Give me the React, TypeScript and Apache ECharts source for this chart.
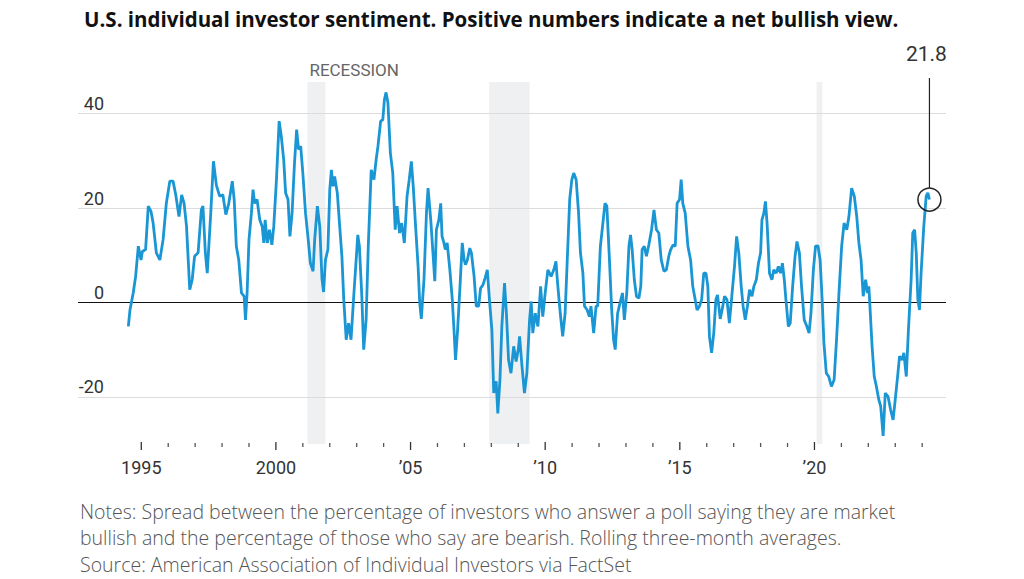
import React, { useEffect, useRef } from 'react';
import * as echarts from 'echarts';

const TITLE = 'U.S. individual investor sentiment. Positive numbers indicate a net bullish view.';
const NOTES = [
  'Notes: Spread between the percentage of investors who answer a poll saying they are market',
  'bullish and the percentage of those who say are bearish. Rolling three-month averages.',
  'Source: American Association of Individual Investors via FactSet',
];

// [year as decimal, bullish share minus bearish share, percentage points]
const spread: [number, number][] = [
  [1994.52, -5.1], [1994.58, -1.6], [1994.7, 2], [1994.79, 5.5], [1994.89, 11.9], [1994.99, 9],
  [1995.04, 10.8], [1995.16, 11.2], [1995.26, 20.4], [1995.36, 19.3], [1995.44, 16.8], [1995.56, 10.5],
  [1995.69, 9], [1995.81, 13.3], [1995.93, 21], [1996.06, 25.7], [1996.18, 25.7], [1996.28, 22.8],
  [1996.4, 18.2], [1996.5, 22.8], [1996.59, 21], [1996.68, 16.1], [1996.8, 2.7], [1996.89, 4.8],
  [1996.98, 9.8], [1997.11, 10.5], [1997.23, 19.6], [1997.29, 20.4], [1997.38, 10.5], [1997.45, 6.2],
  [1997.58, 18.9], [1997.68, 29.9], [1997.79, 24.8], [1997.91, 22.5], [1998.03, 22.8], [1998.14, 18.6],
  [1998.25, 21], [1998.38, 25.7], [1998.45, 21.8], [1998.53, 11.9], [1998.62, 9], [1998.72, 2],
  [1998.82, 1.3], [1998.87, -3.7], [1998.93, 2], [1999.0, 13.3], [1999.09, 18.9], [1999.15, 23.9],
  [1999.21, 21], [1999.3, 21.8], [1999.4, 17.5], [1999.49, 16.1], [1999.55, 12.6], [1999.6, 17.5],
  [1999.68, 12.6], [1999.76, 15.4], [1999.85, 12.2], [1999.92, 16.1], [2000.02, 26], [2000.12, 38.4],
  [2000.2, 35.2], [2000.29, 30.2], [2000.36, 23.2], [2000.45, 21.8], [2000.52, 14], [2000.6, 18.9],
  [2000.69, 29.5], [2000.77, 36.6], [2000.84, 32.4], [2000.92, 33.1], [2001.0, 27.4], [2001.1, 18.9],
  [2001.2, 13.3], [2001.28, 8.3], [2001.38, 6.6], [2001.44, 13.3], [2001.54, 20.4], [2001.63, 16],
  [2001.71, 5], [2001.77, 2.2], [2001.84, 9], [2001.93, 11.2], [2002.0, 23.9], [2002.06, 28.1],
  [2002.12, 24.6], [2002.18, 26.7], [2002.28, 23.2], [2002.36, 16.8], [2002.45, 9.8], [2002.52, 0.6],
  [2002.61, -7.9], [2002.7, -4.4], [2002.79, -7.9], [2002.89, 1.3], [2002.98, 9], [2003.04, 14.3],
  [2003.1, 11.9], [2003.19, 1.3], [2003.26, -10], [2003.35, -3.7], [2003.43, 11.9], [2003.54, 28.1],
  [2003.64, 26], [2003.73, 30.6], [2003.79, 33.1], [2003.89, 38.4], [2003.97, 38.7], [2004.03, 43],
  [2004.09, 44.5], [2004.16, 42.3], [2004.25, 31.7], [2004.34, 27.4], [2004.43, 15.4], [2004.5, 20.4],
  [2004.59, 14.7], [2004.67, 16.8], [2004.77, 12.6], [2004.87, 22.5], [2004.95, 26], [2005.03, 29.9],
  [2005.1, 24.6], [2005.18, 16.8], [2005.28, 7.6], [2005.34, -0.1], [2005.4, -3.5], [2005.5, 5],
  [2005.59, 18.9], [2005.65, 24.2], [2005.75, 17.5], [2005.84, 9.8], [2005.9, 4.5], [2005.96, 15.4],
  [2006.05, 17.5], [2006.12, 21], [2006.17, 14], [2006.24, 12.6], [2006.29, 11.2], [2006.36, 12.6],
  [2006.46, 6.9], [2006.55, 0.6], [2006.62, -6.5], [2006.67, -12.2], [2006.74, -6.5], [2006.83, 2.7],
  [2006.92, 12.6], [2006.99, 9], [2007.04, 8], [2007.11, 9], [2007.2, 11.5], [2007.26, 10.5],
  [2007.36, 5.5], [2007.44, -0.8], [2007.53, -0.8], [2007.6, 3], [2007.69, 3.7], [2007.77, 5.2],
  [2007.85, 6.9], [2007.93, 0.6], [2008.02, -5.8], [2008.09, -19.2], [2008.18, -16.7], [2008.24, -23.5],
  [2008.32, -16.4], [2008.39, -5.1], [2008.49, 4.1], [2008.56, -2.3], [2008.64, -12.2], [2008.73, -15],
  [2008.83, -9.3], [2008.92, -12.5], [2009.0, -10], [2009.05, -7.2], [2009.14, -13.6], [2009.23, -19.2],
  [2009.32, -15], [2009.42, -3.7], [2009.48, 0.2], [2009.54, -6.5], [2009.63, -2.3], [2009.73, -5.1],
  [2009.83, 3.4], [2009.91, -3], [2010.0, 2], [2010.1, 6.9], [2010.22, 5.5], [2010.32, 6.9],
  [2010.4, 8.7], [2010.46, 4.1], [2010.56, -2.3], [2010.65, -7.2], [2010.74, -2.3], [2010.82, 9],
  [2010.91, 21.8], [2010.99, 26], [2011.06, 27.4], [2011.15, 26], [2011.24, 18.9], [2011.31, 10.5],
  [2011.4, 6.2], [2011.46, -0.8], [2011.56, -1.6], [2011.64, -3], [2011.7, -0.8], [2011.8, -6.5],
  [2011.89, -0.8], [2011.95, -0.8], [2012.05, 11.9], [2012.13, 16.1], [2012.22, 21], [2012.29, 20.4],
  [2012.38, 9.8], [2012.47, -1.6], [2012.54, -7.9], [2012.6, -10], [2012.69, -2.3], [2012.78, -0.1],
  [2012.87, 2], [2012.94, -3.7], [2013.03, 2], [2013.11, 11.9], [2013.17, 14.3], [2013.23, 11.2],
  [2013.31, 4.8], [2013.39, 1.3], [2013.48, 0.9], [2013.55, 3.4], [2013.6, 11.2], [2013.68, 11.9],
  [2013.76, 9.8], [2013.85, 12.2], [2013.95, 15.4], [2014.04, 19.6], [2014.13, 15.4], [2014.22, 14.7],
  [2014.31, 9], [2014.41, 6.6], [2014.5, 6.9], [2014.59, 9.8], [2014.66, 11.2], [2014.75, 12.2],
  [2014.83, 11.9], [2014.9, 21], [2014.99, 21.8], [2015.05, 26], [2015.11, 21], [2015.2, 18.9],
  [2015.3, 11.9], [2015.4, 9], [2015.48, 3.4], [2015.57, 0.6], [2015.64, -1.6], [2015.73, -0.8],
  [2015.81, 0.6], [2015.89, 6.2], [2015.97, 6.2], [2016.04, 3.4], [2016.1, -7.2], [2016.18, -10.7],
  [2016.26, -6.5], [2016.34, 0.6], [2016.4, 1.6], [2016.5, -3.5], [2016.59, -1], [2016.66, 1.3],
  [2016.75, 0.6], [2016.84, -4.4], [2016.93, 1.3], [2017.03, 7.6], [2017.11, 14], [2017.19, 10.5],
  [2017.28, 3.4], [2017.35, -0.8], [2017.43, -3.7], [2017.51, -0.8], [2017.59, 2.7], [2017.68, 1.3],
  [2017.75, 3.4], [2017.84, 4.8], [2017.92, 8.3], [2018.0, 10.5], [2018.05, 17.5], [2018.12, 18.9],
  [2018.18, 21.4], [2018.24, 16.8], [2018.33, 6.2], [2018.42, 4.8], [2018.49, 6.9], [2018.58, 6.2],
  [2018.66, 7.6], [2018.74, 6.2], [2018.81, 8.3], [2018.88, 4.8], [2018.94, 0.6], [2019.03, -5.1],
  [2019.1, -4.4], [2019.19, 3.4], [2019.28, 9.8], [2019.35, 12.9], [2019.44, 10.5], [2019.52, 3.4],
  [2019.62, -3.7], [2019.72, -5.1], [2019.8, -6.5], [2019.87, -2.3], [2019.96, 6.9], [2020.04, 11.9],
  [2020.13, 12], [2020.21, 9], [2020.29, 0], [2020.35, -8.5], [2020.44, -15], [2020.53, -15.7],
  [2020.63, -17.8], [2020.73, -16.4], [2020.82, -7.9], [2020.91, 2], [2021.01, 11.9], [2021.1, 16.8],
  [2021.2, 15.4], [2021.28, 18.2], [2021.38, 24.2], [2021.48, 22.5], [2021.57, 18.2], [2021.65, 12.6],
  [2021.73, 9], [2021.81, 1.3], [2021.9, 4.8], [2021.97, 2], [2022.02, 3.4], [2022.06, -0.8],
  [2022.14, -9.3], [2022.22, -15.7], [2022.3, -17.8], [2022.39, -20.6], [2022.46, -22], [2022.55, -28.3],
  [2022.63, -19.2], [2022.73, -19.9], [2022.83, -22.8], [2022.92, -24.9], [2023.0, -20.6], [2023.1, -15],
  [2023.16, -11.4], [2023.25, -12.2], [2023.32, -10.7], [2023.41, -15.7], [2023.49, -5.8], [2023.59, 4.8],
  [2023.65, 14.7], [2023.72, 15.4], [2023.78, 10.5], [2023.84, 0.6], [2023.9, -1.6], [2023.96, 6.2],
  [2024.06, 16.1], [2024.15, 22.5], [2024.21, 23.2], [2024.27, 21.8],
];

// NBER recessions: Mar-Nov 2001, Dec 2007-Jun 2009, Feb-Apr 2020
const recessions: [number, number][] = [
  [2001.17, 2001.84],
  [2007.92, 2009.42],
  [2020.08, 2020.29],
];

const tickYears = [
  1995, 1996, 1997, 1998, 1999, 2000, 2001, 2002, 2003, 2004, 2005, 2006, 2007, 2008, 2009,
  2010, 2011, 2012, 2013, 2014, 2015, 2016, 2017, 2018, 2019, 2020, 2021, 2022, 2023, 2024,
];
const yearLabels: Record<number, string> = {
  1995: '1995', 2000: '2000', 2005: '\u201905', 2010: '\u201910', 2015: '\u201915', 2020: '\u201920',
};
const yGridValues = [40, 20, -20];
const yLabelValues = [40, 20, 0, -20];

const X_MIN = 1992.65;
const X_MAX = 2024.885;
const Y_MIN = -30;
const Y_MAX = 46.7;

const LINE_BLUE = '#1996d3';
const NARROW = "'Liberation Sans Narrow', 'Roboto', sans-serif";
const BODY = "'Open Sans', 'Roboto', sans-serif";

export default function App() {
  const ref = useRef<HTMLDivElement>(null);

  useEffect(() => {
    if (!ref.current) return;
    const chart = echarts.init(ref.current, null, { renderer: 'svg' });
    const last = spread[spread.length - 1];

    chart.setOption({
      animation: false,
      backgroundColor: '#ffffff',
      title: {
        text: TITLE,
        left: 79,
        top: 3,
        textStyle: { fontFamily: "'Open Sans', 'Noto Sans', sans-serif", fontWeight: 'bold', fontSize: 20.5, color: '#111' },
      },
      grid: { left: 78, right: 78, top: 82, bottom: 135 },
      xAxis: {
        type: 'value',
        min: X_MIN,
        max: X_MAX,
        show: false,
        splitLine: { show: false },
      },
      yAxis: {
        type: 'value',
        min: Y_MIN,
        max: Y_MAX,
        interval: 10,
        axisLine: { show: false },
        axisTick: { show: false },
        splitLine: { show: false },
        axisLabel: {
          inside: true,
          margin: 26,
          align: 'right',
          verticalAlign: 'bottom',
          padding: [0, 0, 1, 0],
          fontFamily: NARROW,
          fontSize: 18,
          color: '#333',
          formatter: (v: number) => (yLabelValues.includes(v) ? String(v) : ''),
        },
      },
      graphic: NOTES.map((line, i) => ({
        type: 'text',
        left: 80,
        top: 501 + i * 26.5,
        style: { text: line, fontFamily: BODY, fontWeight: 300, fontSize: 19.5, fill: '#555' },
      })),
      series: [
        {
          name: 'spread',
          type: 'line',
          z: 3,
          data: spread,
          symbol: 'none',
          lineStyle: { color: LINE_BLUE, width: 2.8 },
          markArea: {
            z: 1,
            silent: true,
            itemStyle: { color: '#eff0f1' },
            data: recessions.map(([a, b], i) => [
              {
                xAxis: a,
                label: i === 0
                  ? {
                      show: true,
                      formatter: 'RECESSION',
                      position: [2, -4],
                      verticalAlign: 'bottom',
                      align: 'left',
                      fontFamily: NARROW,
                      fontSize: 17,
                      color: '#666',
                    }
                  : { show: false },
              },
              { xAxis: b },
            ]),
          },
          markLine: {
            z: 2,
            silent: true,
            symbol: 'none',
            label: { show: false },
            data: [
              ...yGridValues.map((v) => ({ yAxis: v, lineStyle: { color: '#dcdcdc', width: 1, type: 'solid' } })),
              { yAxis: 0, lineStyle: { color: '#111', width: 1, type: 'solid' } },
            ],
          },
        },
        {
          name: 'year ticks',
          type: 'custom',
          silent: true,
          z: 4,
          data: tickYears.map((y) => [y, Y_MIN]),
          encode: { x: 0, y: 1 },
          renderItem: (_params: any, api: any) => {
            const year = api.value(0);
            const [x, y] = api.coord([year, Y_MIN]);
            const label = yearLabels[year];
            const children: any[] = [
              {
                type: 'line',
                shape: { x1: x, y1: y - (label ? 2 : 1), x2: x, y2: y + (label ? 6 : 3) },
                style: { stroke: label ? '#333' : '#555', lineWidth: 1.3 },
              },
            ];
            if (label) {
              children.push({
                type: 'text',
                x,
                y: y + 23,
                style: {
                  text: label,
                  align: 'center',
                  verticalAlign: 'middle',
                  fontFamily: NARROW,
                  fontSize: 18,
                  fill: '#333',
                },
              });
            }
            return { type: 'group', children };
          },
        },
        {
          name: 'latest',
          type: 'custom',
          silent: true,
          z: 5,
          data: [last],
          encode: { x: 0, y: 1 },
          renderItem: (_params: any, api: any) => {
            const [cx, cy] = api.coord([api.value(0), api.value(1)]);
            const top = api.coord([api.value(0), Y_MAX])[1];
            const r = 11.5;
            return {
              type: 'group',
              children: [
                { type: 'circle', shape: { cx, cy, r }, style: { fill: 'none', stroke: '#222', lineWidth: 1.5 } },
                { type: 'line', shape: { x1: cx, y1: cy - r, x2: cx, y2: top - 4 }, style: { stroke: '#222', lineWidth: 1.2 } },
                {
                  type: 'text',
                  x: cx - 3,
                  y: top - 28,
                  style: {
                    text: Number(api.value(1)).toFixed(1),
                    align: 'center',
                    verticalAlign: 'middle',
                    fontFamily: NARROW,
                    fontSize: 21,
                    fill: '#333',
                  },
                },
              ],
            };
          },
        },
      ],
    });

    return () => chart.dispose();
  }, []);

  return (
    <div
      ref={ref}
      style={{ position: 'fixed', left: 0, top: 0, width: 1024, height: 579, background: '#fff' }}
    />
  );
}
